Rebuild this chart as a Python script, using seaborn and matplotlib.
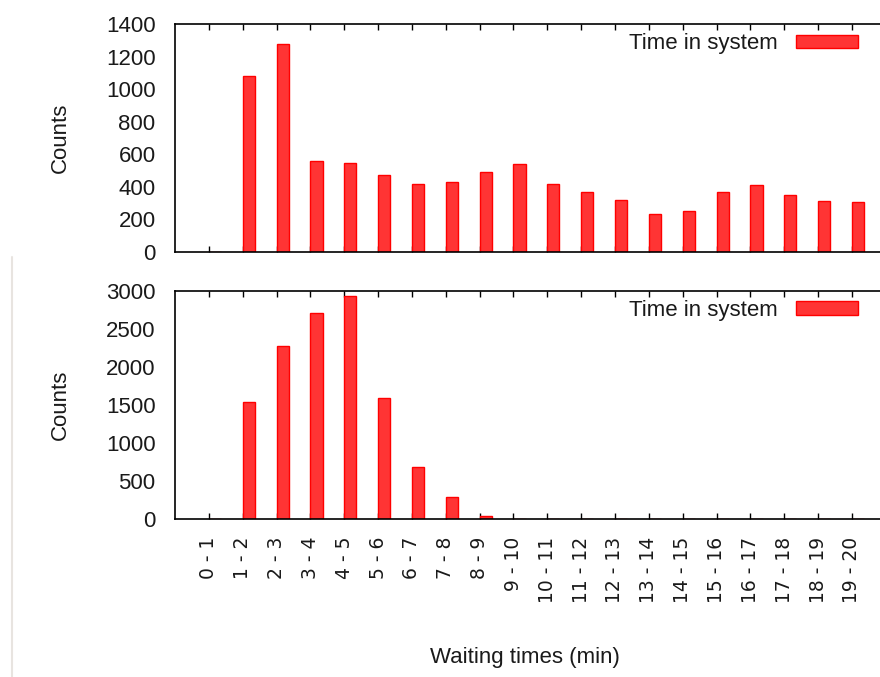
import matplotlib
matplotlib.use("Agg")
import matplotlib.pyplot as plt
import seaborn as sns
import numpy as np
import pandas as pd
from matplotlib.lines import Line2D

categories = ["0 - 1", "1 - 2", "2 - 3", "3 - 4", "4 - 5", "5 - 6", "6 - 7", "7 - 8",
              "8 - 9", "9 - 10", "10 - 11", "11 - 12", "12 - 13", "13 - 14", "14 - 15",
              "15 - 16", "16 - 17", "17 - 18", "18 - 19", "19 - 20"]
top_counts = [0, 1080, 1280, 558, 548, 470, 420, 428, 490, 540, 420, 366, 321, 235,
              254, 367, 410, 348, 311, 305]
bottom_counts = [0, 1530, 2272, 2702, 2934, 1592, 675, 285, 40, 0, 0, 0, 0, 0, 0,
                 0, 0, 0, 0, 0]
top_yticks = [0, 200, 400, 600, 800, 1000, 1200, 1400]
bottom_yticks = [0, 500, 1000, 1500, 2000, 2500, 3000]
series_label = "Time in system"

sns.set_theme(style="white")
plt.rcParams["font.family"] = ["Liberation Sans", "DejaVu Sans"]

W, H = 880, 677
fig = plt.figure(figsize=(W / 100, H / 100), dpi=100)

def px_axes(left, top, right, bottom):
    return fig.add_axes([left / W, 1 - bottom / H, (right - left) / W, (bottom - top) / H])

ax1 = px_axes(175, 24, 880, 252)
ax2 = px_axes(175, 290.7, 880, 518.7)

bar_w = 0.36
fill = "#ff3434"
edge = "#ff0000"
txt = "#1a1a1a"

for ax, vals, yt in [(ax1, top_counts, top_yticks), (ax2, bottom_counts, bottom_yticks)]:
    df = pd.DataFrame({"cat": categories, "val": vals})
    sns.barplot(data=df, x="cat", y="val", order=categories, ax=ax, width=bar_w,
                color=fill, edgecolor=edge, linewidth=1.0, saturation=1,
                label=series_label)
    n = len(categories)
    tick_pos = np.arange(n) - bar_w / 2
    ax.set_xticks(tick_pos)
    ax.set_xlim(tick_pos[0] - 1, tick_pos[0] + 19.83)
    ax.set_ylim(yt[0], yt[-1])
    ax.set_yticks(yt)
    ax.set_yticklabels([str(v) for v in yt], fontsize=16, color=txt)
    ax.set_ylabel("Counts", fontsize=16, color=txt)
    ax.set_xlabel("")
    for s in ["top", "bottom", "left"]:
        ax.spines[s].set_visible(True)
        ax.spines[s].set_color("black")
        ax.spines[s].set_linewidth(1.2)
    ax.spines["right"].set_visible(False)
    ax.tick_params(axis="x", which="both", direction="in", length=4, width=1,
                   color="black", top=True, bottom=True)
    ax.tick_params(axis="y", length=0, pad=14)
    ax.grid(False)
    leg = ax.legend(loc="upper right", bbox_to_anchor=(1 - 11 / 705, 1 + 2 / 228),
                    markerfirst=False, frameon=False, fontsize=16,
                    handlelength=2.8, handleheight=0.55, handletextpad=0.8,
                    borderaxespad=0.3, borderpad=0.2)
    for t in leg.get_texts():
        t.set_color(txt)
    ax.yaxis.set_label_coords(-0.147, 0.5)

ax1.set_xticklabels([])
ax2.set_xticklabels(categories, rotation=90, ha="center", va="top",
                    fontsize=13.5, family="DejaVu Sans", color=txt)
ax2.tick_params(axis="x", pad=13)

fig.text(525 / W, 1 - 657 / H, "Waiting times (min)", ha="center", va="center",
         fontsize=16, color=txt)

fig.add_artist(Line2D([12 / W, 12 / W], [0, 1 - 257 / H], transform=fig.transFigure,
                      color="#e8e4e0", linewidth=1.5))

fig.savefig("out.png", dpi=100, facecolor="white")
